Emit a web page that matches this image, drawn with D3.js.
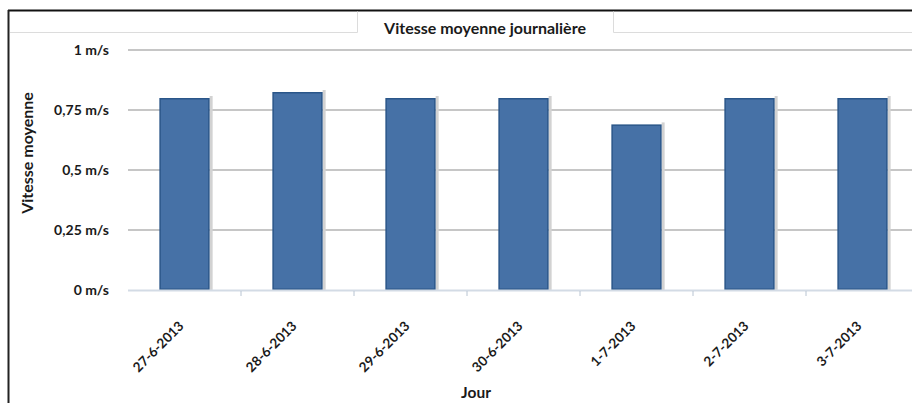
<!DOCTYPE html>
<html>
<head>
<meta charset="utf-8">
<script src="https://cdn.jsdelivr.net/npm/d3@7"></script>
<style>
  html, body { margin: 0; padding: 0; background: #fff; }
  svg { display: block; }
  text { font-family: Lato, "Open Sans", sans-serif; font-weight: bold; fill: #1a1a1a; }
</style>
</head>
<body>
<svg id="chart" width="912" height="403"></svg>
<script>
// Daily mean speed, one bar per day
const days = ["27-6-2013", "28-6-2013", "29-6-2013", "30-6-2013", "1-7-2013", "2-7-2013", "3-7-2013"];
const speeds = [0.80, 0.825, 0.80, 0.80, 0.69, 0.80, 0.80];
const yTicks = [0, 0.25, 0.5, 0.75, 1];
const yTickLabels = ["0 m/s", "0,25 m/s", "0,5 m/s", "0,75 m/s", "1 m/s"];

const svg = d3.select("#chart");

const x = d3.scaleBand().domain(days).range([128, 919]).paddingInner(0.555).paddingOuter(0.2775);
const y = d3.scaleLinear().domain([0, 1]).range([290, 50]);

// Outer frame (top and left edges are visible)
svg.append("line").attr("x1", 8).attr("x2", 912).attr("y1", 10.5).attr("y2", 10.5)
  .attr("stroke", "#111").attr("stroke-width", 2);
svg.append("line").attr("x1", 8.5).attr("x2", 8.5).attr("y1", 10).attr("y2", 403)
  .attr("stroke", "#222").attr("stroke-width", 2);

// Title box cut into the header line
const hdr = svg.append("g").attr("fill", "none").attr("stroke", "#dcdcdc").attr("stroke-width", 1);
hdr.append("path").attr("d", "M10,32.5H357.5V11.5M613.5,11.5V32.5H912");

svg.append("text").attr("x", 485).attr("y", 34).attr("text-anchor", "middle")
  .attr("font-size", 16).text("Vitesse moyenne journalière");

// Horizontal gridlines
svg.append("g").selectAll("line").data(yTicks.filter(d => d > 0)).join("line")
  .attr("x1", 128).attr("x2", 919)
  .attr("y1", d => y(d)).attr("y2", d => y(d))
  .attr("stroke", "#c6c6c6").attr("stroke-width", 2);

// Y axis labels
const yAxis = d3.axisLeft(y).tickValues(yTicks)
  .tickFormat((d, i) => yTickLabels[i]).tickSize(0).tickPadding(0);
const gy = svg.append("g").attr("transform", "translate(109,0)").call(yAxis);
gy.select(".domain").remove();
gy.selectAll("text").attr("font-size", 14).attr("fill", "#1a1a1a")
  .style("font-family", "Lato, 'Open Sans', sans-serif").style("font-weight", "bold");

// Bars: soft shadow on the right, then the bar with a darker edge
const bars = svg.append("g");
bars.selectAll("rect.shadow").data(speeds).join("rect").attr("class", "shadow")
  .attr("x", (d, i) => x(days[i]) + x.bandwidth())
  .attr("y", d => y(d) - 2)
  .attr("width", 3)
  .attr("height", d => y(0) - y(d) + 2)
  .attr("fill", "#d2d2d2");
bars.selectAll("rect.bar").data(speeds).join("rect").attr("class", "bar")
  .attr("x", (d, i) => x(days[i]) + 0.75)
  .attr("y", d => y(d) + 0.75)
  .attr("width", x.bandwidth() - 1.5)
  .attr("height", d => y(0) - y(d) - 1.5)
  .attr("fill", "#4671a6")
  .attr("stroke", "#2a5689").attr("stroke-width", 1.5);

// X axis baseline with ticks between categories
const xAxisG = svg.append("g");
xAxisG.append("line").attr("x1", 128).attr("x2", 919).attr("y1", 290.5).attr("y2", 290.5)
  .attr("stroke", "#d3dbe5").attr("stroke-width", 2);
const bounds = d3.range(1, days.length).map(i => x(days[i]) - x.step() * x.paddingInner() / 2);
xAxisG.selectAll("line.tick").data(bounds).join("line").attr("class", "tick")
  .attr("x1", d => d).attr("x2", d => d).attr("y1", 291).attr("y2", 296)
  .attr("stroke", "#b8c4d2").attr("stroke-width", 1);

// Rotated category labels
svg.append("g").selectAll("text").data(days).join("text")
  .attr("transform", d => `translate(${x(d) + x.bandwidth() / 2},327) rotate(-45)`)
  .attr("text-anchor", "end").attr("font-size", 13.5).text(d => d);

// Axis titles
svg.append("text").attr("x", 476).attr("y", 398).attr("text-anchor", "middle")
  .attr("font-size", 15.5).text("Jour");
svg.append("text").attr("transform", "translate(33,153) rotate(-90)")
  .attr("text-anchor", "middle").attr("font-size", 16).text("Vitesse moyenne");
</script>
</body>
</html>
